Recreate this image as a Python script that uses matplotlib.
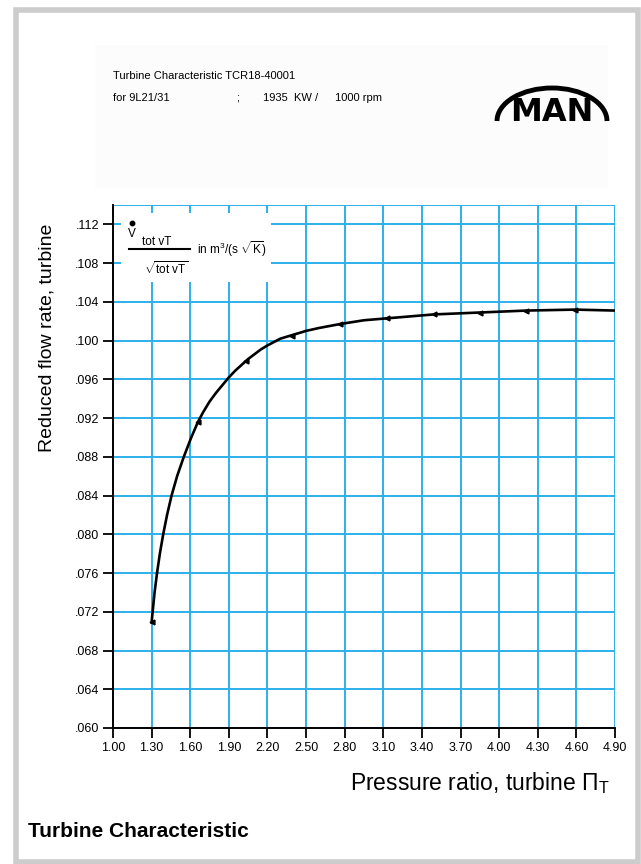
import matplotlib
matplotlib.use('Agg')
import matplotlib.pyplot as plt
from matplotlib.patches import Rectangle, Arc

plt.rcParams['font.family'] = ['Liberation Sans', 'DejaVu Sans']
plt.rcParams['mathtext.fontset'] = 'custom'
plt.rcParams['mathtext.rm'] = 'Liberation Sans'
plt.rcParams['mathtext.it'] = 'Liberation Sans:italic'

# curve trace (pressure ratio, reduced flow)
pr_curve = [1.300, 1.308, 1.323, 1.342, 1.364, 1.390, 1.420, 1.455, 1.498,
            1.550, 1.608, 1.660, 1.700, 1.750, 1.800, 1.850, 1.900, 1.950,
            2.000, 2.050, 2.100, 2.150, 2.200, 2.300, 2.400, 2.500, 2.600,
            2.760, 2.950, 3.130, 3.490, 3.850, 4.210, 4.590, 4.900]
flow_curve = [.0709, .0720, .0740, .0760, .0780, .0800, .0820, .0840, .0860,
              .0880, .0900, .0916, .0926, .0937, .0946, .0954, .0962, .0969,
              .0975, .0981, .0986, .0991, .0995, .1002, .1006, .1010, .1013,
              .1017, .1021, .1023, .1027, .1029, .1031, .1032, .1031]

# measured points (triangle markers)
pr_pts = [1.30, 1.66, 2.03, 2.39, 2.76, 3.13, 3.49, 3.85, 4.21, 4.59]
flow_pts = [.0709, .0916, .0979, .1005, .1017, .1023, .1027, .1029, .1031, .1032]

x_ticks = [1.00, 1.30, 1.60, 1.90, 2.20, 2.50, 2.80, 3.10, 3.40, 3.70,
           4.00, 4.30, 4.60, 4.90]
y_ticks = [.060, .064, .068, .072, .076, .080, .084, .088, .092, .096,
           .100, .104, .108, .112]
x_lim = (1.00, 4.90)
y_lim = (0.060, 0.114)

BLUE = '#2db0ea'
W, H = 641, 864

fig = plt.figure(figsize=(W / 100, H / 100), dpi=100)

# main chart
ax = fig.add_axes([113 / W, 1 - 728 / H, (615 - 113) / W, (728 - 205) / H])
ax.set_xlim(*x_lim)
ax.set_ylim(*y_lim)
ax.set_xticks(x_ticks)
ax.set_xticklabels(['%.2f' % v for v in x_ticks])
ax.set_yticks(y_ticks)
ax.set_yticklabels([('%.3f' % v)[1:] for v in y_ticks])
ax.tick_params(direction='out', length=7, width=1.3, labelsize=9, pad=3)
ax.set_axisbelow(True)
ax.grid(True, color=BLUE, lw=1.4)
ax.axhline(y_lim[1], color=BLUE, lw=1.4, zorder=0.5)
for s in ['top', 'right']:
    ax.spines[s].set_visible(False)
for s in ['left', 'bottom']:
    ax.spines[s].set_linewidth(1.4)

# white label box over the grid
ax.add_patch(Rectangle((1.062, 0.1060), 2.228 - 1.062, 0.1132 - 0.1060,
                       fc='white', ec='none', zorder=1))

ax.plot(pr_curve, flow_curve, color='black', lw=1.9, zorder=3,
        solid_joinstyle='round')
ax.plot(pr_pts, flow_pts, ls='none', marker='<', ms=3.5, color='black', zorder=4)

# page overlay in pixel units, drawn above the chart
pg = fig.add_axes([0, 0, 1, 1])
pg.set_xlim(0, W)
pg.set_ylim(H, 0)
pg.axis('off')
pg.set_zorder(5)

pg.add_patch(Rectangle((15.5, 10), 622, 852, fill=False, ec='#cccccc', lw=4))
pg.add_patch(Rectangle((95, 45), 513, 143, fc='#fcfcfc', ec='none', zorder=0))

pg.text(113, 79, 'Turbine Characteristic TCR18-40001', fontsize=8, va='baseline')
pg.text(113, 101, 'for 9L21/31', fontsize=8, va='baseline')
pg.text(236, 101, ';', fontsize=8, va='baseline')
pg.text(263, 101, '1935  KW /', fontsize=8, va='baseline')
pg.text(335, 101, '1000 rpm', fontsize=8, va='baseline')

# MAN logo
pg.add_patch(Arc((552, 121), 110, 66, theta1=180, theta2=360, lw=3.5, color='black'))
pg.text(552, 121, 'MAN', fontsize=23, fontweight='bold', family='DejaVu Sans',
        ha='center', va='baseline')

# formula label (dot over V drawn as a marker)
pg.plot([131.5], [223], marker='o', ms=3.2, color='black')
pg.text(131.5, 234, 'V', fontsize=8.5, ha='center', va='center')
pg.text(142, 242, 'tot vT', fontsize=8.5, ha='left', va='center')
pg.plot([129, 190], [249, 249], color='black', lw=1.5)
pg.text(197, 249, r'in m$^3$/(s $\sqrt{\mathrm{K}}$)', fontsize=8.5, ha='left', va='center')
pg.text(166, 269, r'$\sqrt{\mathrm{tot\ vT}}$', fontsize=8.5, ha='center', va='center')

# axis titles
pg.text(47, 338, 'Reduced flow rate, turbine', fontsize=14, rotation=90,
        ha='center', va='center')
pg.text(610, 790, r'Pressure ratio, turbine $\Pi_{\mathrm{T}}$', fontsize=16.5,
        ha='right', va='baseline')

pg.text(28, 837, 'Turbine Characteristic', fontsize=15, fontweight='bold',
        va='baseline')

fig.savefig('out.png', dpi=100)
